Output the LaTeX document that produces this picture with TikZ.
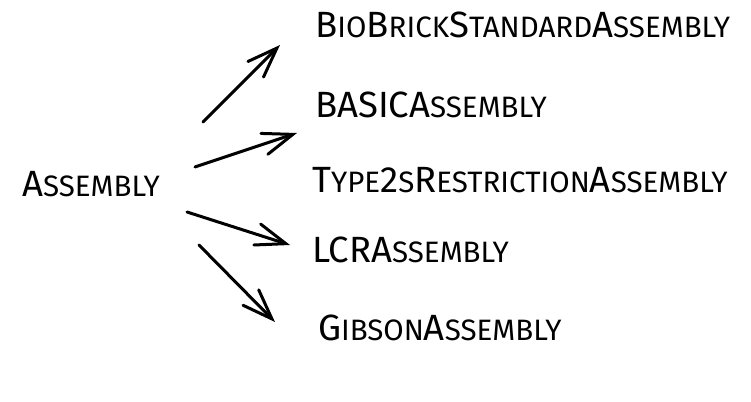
\documentclass[tikz,border=0pt]{standalone}
\usepackage{fontspec}
\setmainfont{Fira Sans}
\usepackage{tikz}
\usetikzlibrary{arrows.meta,positioning}

\newcommand{\capsize}{\fontsize{36.5}{40}\selectfont}
\newcommand{\sm}[1]{{\fontsize{29.5}{32}\selectfont #1}}

\begin{document}
\begin{tikzpicture}[x=1pt,y=1pt,
    lbl/.style={anchor=base west,inner sep=0pt,font=\capsize},
    arr/.style={line width=3pt,line cap=round,-{Straight Barb[length=30pt,width=22pt,line cap=round]}}]

\useasboundingbox (0,0) rectangle (751,401);

\node[lbl] (asm) at (22,204) {A\sm{SSEMBLY}};

\node[lbl] (bio) at (315,363) {B\sm{IO}B\sm{RICK}S\sm{TANDARD}A\sm{SSEMBLY}};
\node[lbl] (basic) at (315,283) {BASICA\sm{SSEMBLY}};
\node[lbl] (type) at (312,208) {T\sm{YPE}2\sm{S}R\sm{ESTRICTION}A\sm{SSEMBLY}};
\node[lbl] (lcr) at (312,138) {LCRA\sm{SSEMBLY}};
\node[lbl] (gib) at (318,60) {G\sm{IBSON}A\sm{SSEMBLY}};

\draw[arr] ([shift={(181,75)}]asm.base west) -- ([shift={(-35,-7)}]bio.base west);
\draw[arr] ([shift={(173,30)}]asm.base west) -- ([shift={(-18,-15)}]basic.base west);
\draw[arr] ([shift={(165,-15)}]asm.base west) -- ([shift={(-22,18)}]lcr.base west);
\draw[arr] ([shift={(177,-48)}]asm.base west) -- ([shift={(-43,19)}]gib.base west);

\end{tikzpicture}
\end{document}
